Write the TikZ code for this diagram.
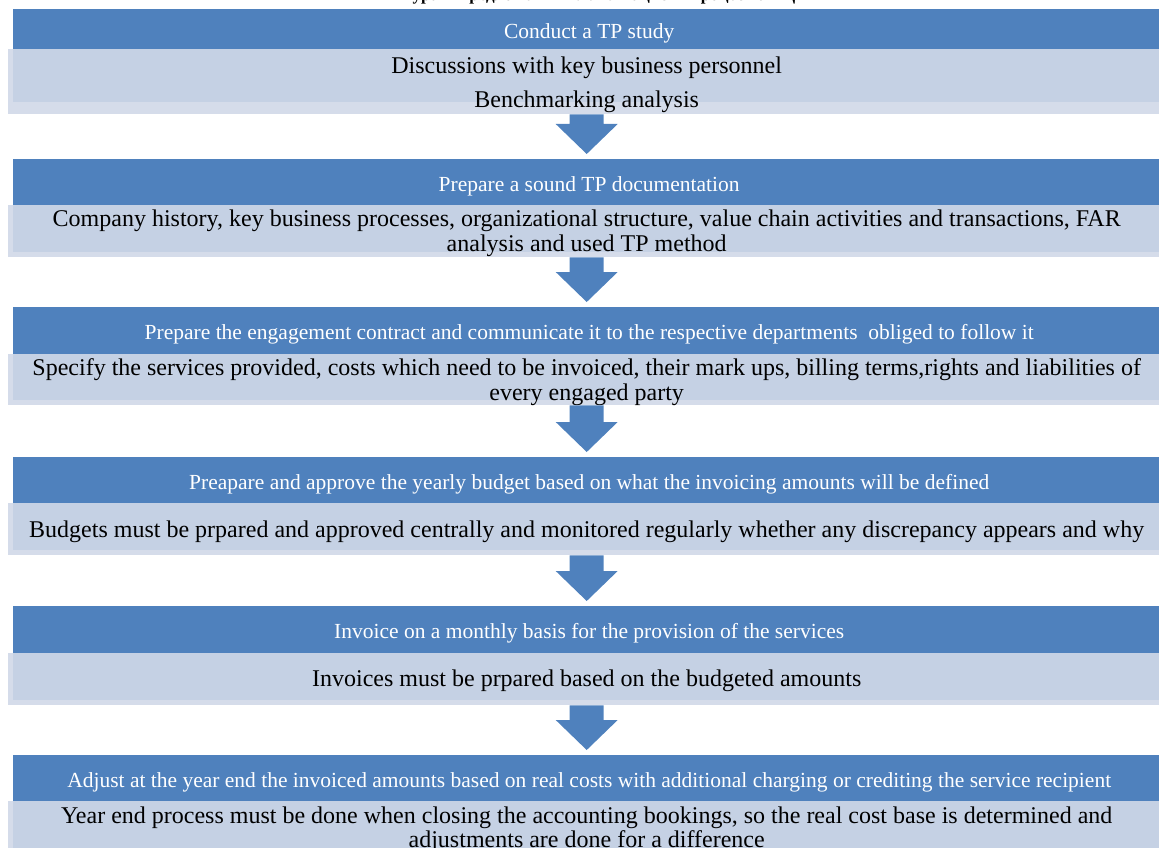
\documentclass[tikz,border=0pt]{standalone}
\usepackage{fontspec}
\setmainfont{Liberation Serif}
\usetikzlibrary{calc}

\definecolor{hdrblue}{HTML}{4F81BD}
\definecolor{bodyfill}{HTML}{C5D1E4}
\definecolor{bodyedge}{HTML}{D5DCEA}
\definecolor{arrowblue}{HTML}{4F81BD}

\tikzset{
  x=1pt, y=-1pt,
  hdr/.style={fill=hdrblue, text=white, anchor=north west, inner sep=0pt,
    minimum width=1152pt, align=center,
    font=\fontsize{21.5}{25}\selectfont,
    execute at begin node={\rule{0pt}{22.5pt}}},
  body/.style={fill=bodyedge, text=black, anchor=north west, inner sep=0pt,
    minimum width=1157pt,
    font=\fontsize{24}{24.5}\selectfont,
    path picture={\fill[bodyfill]
      ($(path picture bounding box.north west)+(5pt,0)$) rectangle
      ($(path picture bounding box.south east)+(0,#1)$);}},
  body/.default=5pt,
  blockarrow/.style={fill=arrowblue},
}

% centred lines of a detail box, lowered by the optional amount
% while the box keeps its natural size
\newcommand\btext[2][-3pt]{\raisebox{#1}[\height][\depth]{%
  \begin{tabular}{@{}c@{}}#2\end{tabular}}}

% block arrow from the bottom of one stage to the header of the next
\newcommand\stagearrow[2]{%
  \fill[blockarrow] let \p1=(#1.south), \p2=(#2.north) in
    (\x1-17pt,\y1) -- (\x1+17pt,\y1) -- (\x1+17pt,\y2+35pt) --
    (\x1+31pt,\y2+35pt) -- (\x1,\y2+5pt) -- (\x1-31pt,\y2+35pt) --
    (\x1-17pt,\y2+35pt) -- cycle;}

\begin{document}
\begin{tikzpicture}
\useasboundingbox (0,0) rectangle (1159,848);

% caption above the chart, cut by the top edge
\node[anchor=base, inner sep=0pt, font=\bfseries\fontsize{17}{20}\selectfont]
  (caption) at (588,0.5) {Фигура 4 Предложен имплементациски процес на ТЦ};

% stage 1
\node[hdr, minimum height=40pt] (h1) at (13,9) {Conduct a TP study};
\node[body=12pt, minimum height=65pt, font=\fontsize{24}{34}\selectfont]
  (b1) at (8,49) {\raisebox{-2.5pt}[\dimexpr\height-1.5pt\relax][\dimexpr\depth-1.5pt\relax]{%
    \begin{tabular}{@{}c@{}}Discussions with key business personnel\\Benchmarking analysis\end{tabular}}};

% stage 2
\node[hdr, minimum height=46pt] (h2) at (13,159) {Prepare a sound TP documentation};
\node[body, minimum height=52pt] (b2) at (8,205)
  {\btext{Company history, key business processes, organizational structure, value chain activities and transactions, FAR\\analysis and used TP method}};

% stage 3
\node[hdr, minimum height=47pt] (h3) at (13,307)
  {Prepare the engagement contract and communicate it to the respective departments\ \ obliged to follow it};
\node[body, minimum height=51pt] (b3) at (8,354)
  {\btext[-3.5pt]{Specify the services provided, costs which need to be invoiced, their mark ups, billing terms,rights and liabilities of\\every engaged party}};

% stage 4
\node[hdr, minimum height=46pt] (h4) at (13,457)
  {Preapare and approve the yearly budget based on what the invoicing amounts will be defined};
\node[body, minimum height=52pt] (b4) at (8,503)
  {\btext{Budgets must be prpared and approved centrally and monitored regularly whether any discrepancy appears and why}};

% stage 5
\node[hdr, minimum height=47pt] (h5) at (13,606)
  {Invoice on a monthly basis for the provision of the services};
\node[body, minimum height=52pt] (b5) at (8,653)
  {\btext[-2pt]{Invoices must be prpared based on the budgeted amounts}};

% stage 6
\node[hdr, minimum height=46pt] (h6) at (13,755)
  {Adjust at the year end the invoiced amounts based on real costs with additional charging or crediting the service recipient};
\node[body, minimum height=55pt] (b6) at (8,801)
  {\btext[-2pt]{Year end process must be done when closing the accounting bookings, so the real cost base is determined and\\adjustments are done for a difference}};

% arrows between the stages
\stagearrow{b1}{h2}
\stagearrow{b2}{h3}
\stagearrow{b3}{h4}
\stagearrow{b4}{h5}
\stagearrow{b5}{h6}
\end{tikzpicture}
\end{document}
